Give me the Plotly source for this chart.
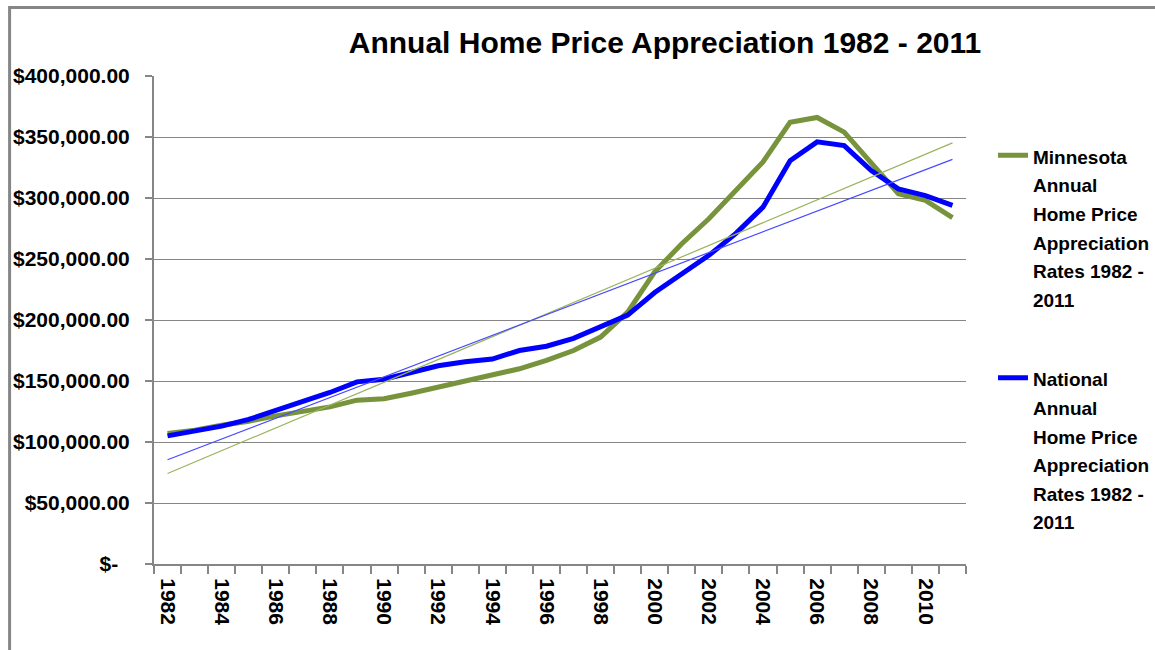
import numpy as np
import plotly.graph_objects as go

years = list(range(1982, 2012))
minnesota = [107000, 109700, 113800, 117000, 121400, 124700, 128800, 134300, 135500, 140000,
             145000, 149000, 154000, 160000, 167000, 175000, 186000, 206500, 239500, 262500,
             283000, 306000, 329500, 362000, 366000, 354000, 328000, 303500, 298000, 284000]
national = [105000, 108500, 113000, 118500, 126000, 133500, 140600, 149300, 151500, 157000,
            162500, 165700, 168000, 175000, 178500, 185000, 194000, 204000, 222500, 238000,
            253000, 271000, 292500, 330500, 346000, 343000, 322500, 307500, 302000, 294000]
y_tickvals = [0, 50000, 100000, 150000, 200000, 250000, 300000, 350000, 400000]
y_ticktext = ["$-\u00a0\u00a0", "$50,000.00", "$100,000.00", "$150,000.00", "$200,000.00",
              "$250,000.00", "$300,000.00", "$350,000.00", "$400,000.00"]
x_tickvals = list(range(1982, 2012, 2))
title_text = "Annual Home Price Appreciation 1982 - 2011"
mn_lines = ["Minnesota", "Annual", "Home Price", "Appreciation", "Rates 1982 -", "2011"]
nat_lines = ["National", "Annual", "Home Price", "Appreciation", "Rates 1982 -", "2011"]

FONT = "Liberation Sans, Arial, sans-serif"
GREEN = "#77933C"
BLUE = "#0000FF"
GRAY = "#868686"


def legend_label(lines):
    return "<br>".join(f"<span style='font-size:19px'>{ln}</span>" for ln in lines)


x = np.array(years, dtype=float)
mn_fit = np.polyval(np.polyfit(x, minnesota, 1), x)
nat_fit = np.polyval(np.polyfit(x, national, 1), x)

fig = go.Figure()
fig.add_trace(go.Scatter(x=years, y=minnesota, mode="lines", name=legend_label(mn_lines),
                         line=dict(color=GREEN, width=5), legendgroup="mn"))
fig.add_trace(go.Scatter(x=years, y=national, mode="lines", name=legend_label(nat_lines),
                         line=dict(color=BLUE, width=5), legendgroup="nat"))
fig.add_trace(go.Scatter(x=years, y=mn_fit, mode="lines", showlegend=False,
                         line=dict(color="#9BB35C", width=1.2)))
fig.add_trace(go.Scatter(x=years, y=nat_fit, mode="lines", showlegend=False,
                         line=dict(color="#4A4AFF", width=1.2)))

L, R, T, B = 153.5, 966, 75.5, 564
W, H = 1155, 650
pw, ph = R - L, B - T


def px_x(p):
    return (p - L) / pw


def px_y(p):
    return (B - p) / ph


fig.update_layout(
    width=W, height=H,
    margin=dict(l=L, r=W - R, t=T, b=H - B, autoexpand=False),
    paper_bgcolor="white", plot_bgcolor="white",
    font=dict(family=FONT, color="black", weight="bold"),
    title=dict(text=title_text, x=665 / W, xanchor="center", xref="container",
               y=1 - 42 / H, yanchor="middle", yref="container",
               font=dict(size=30, family=FONT, weight="bold", color="black")),
    showlegend=True,
    legend=dict(x=px_x(993), xanchor="left", y=px_y(134), yanchor="top",
                font=dict(size=22, family=FONT, weight="bold", color="black"),
                valign="top", traceorder="grouped", tracegroupgap=48,
                bgcolor="rgba(0,0,0,0)", itemwidth=30),
    xaxis=dict(range=[1981.5, 2011.5], tickmode="array", tickvals=x_tickvals,
               ticktext=[str(v) for v in x_tickvals], tickangle=90,
               ticks="", showgrid=False, zeroline=False,
               showline=True, linecolor=GRAY, linewidth=2,
               ticklabelstandoff=8,
               tickfont=dict(size=21, family=FONT, weight="bold", color="black"),
               minor=dict(tickmode="linear", tick0=1981.5, dtick=1, ticks="outside",
                          ticklen=8, tickwidth=2, tickcolor=GRAY, showgrid=False)),
    yaxis=dict(range=[0, 400000], tickmode="array", tickvals=y_tickvals, ticktext=y_ticktext,
               ticks="outside", ticklen=7, tickwidth=2, tickcolor=GRAY,
               showgrid=True, gridcolor=GRAY, gridwidth=1.3, zeroline=False,
               showline=True, linecolor=GRAY, linewidth=2,
               ticklabelstandoff=11,
               tickfont=dict(size=21, family=FONT, weight="bold", color="black")),
    shapes=[dict(type="rect", xref="paper", yref="paper",
                 x0=px_x(9), x1=px_x(1175), y0=px_y(670), y1=px_y(7),
                 line=dict(color=GRAY, width=3), fillcolor="rgba(0,0,0,0)", layer="above")],
)

fig.write_html("out.html", config={"displayModeBar": False},
               post_script="document.body.style.margin='0';")
